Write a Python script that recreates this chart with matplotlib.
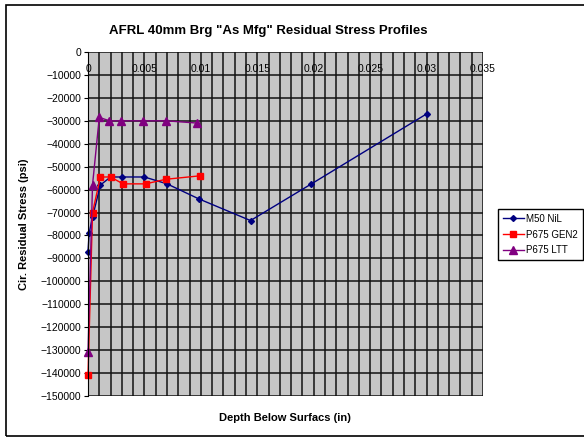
import matplotlib
matplotlib.use("Agg")
import matplotlib.pyplot as plt
from matplotlib.patches import Rectangle
import numpy as np

plt.rcParams['font.family'] = ['Liberation Sans', 'DejaVu Sans']

# depth (in) and circumferential residual stress (psi)
m50_x = [0.0, 0.0001, 0.0004, 0.0011, 0.002, 0.003, 0.005, 0.007, 0.0098, 0.0144, 0.0198, 0.030]
m50_y = [-87000, -79000, -72000, -58000, -54500, -54500, -54500, -57500, -64000, -73500, -57500, -27000]

gen2_x = [0.0, 0.0004, 0.0011, 0.002, 0.0031, 0.0051, 0.0069, 0.0099]
gen2_y = [-141000, -70000, -54500, -54500, -57500, -57500, -55500, -54000]

ltt_x = [0.0, 0.0004, 0.001, 0.0019, 0.0029, 0.0049, 0.0069, 0.0097]
ltt_y = [-131000, -58000, -28500, -30000, -30000, -30000, -30000, -31000]

x_ticks = [0, 0.005, 0.01, 0.015, 0.02, 0.025, 0.03, 0.035]
x_labels = ['0', '0.005', '0.01', '0.015', '0.02', '0.025', '0.03', '0.035']

fig = plt.figure(figsize=(5.84, 4.40), dpi=100)
ax = fig.add_axes([88/584, 1-396/440, 395/584, 344/440])
ax.set_facecolor('#c6c6c6')

ax.plot(m50_x, m50_y, color='#000080', lw=1, marker='D', ms=3, label='M50 NiL', clip_on=False)
ax.plot(gen2_x, gen2_y, color='#ff0000', lw=1, marker='s', ms=4, label='P675 GEN2', clip_on=False)
ax.plot(ltt_x, ltt_y, color='#800080', lw=1, marker='^', ms=6, label='P675 LTT', clip_on=False)

ax.set_xlim(0, 0.035)
ax.set_ylim(-150000, 0)
ax.set_xticks(x_ticks)
ax.set_xticklabels(x_labels)
ax.set_xticks(np.arange(0, 0.0351, 0.001), minor=True)
ax.set_yticks(np.arange(-150000, 1, 10000))
ax.grid(True, which='both', color='#111111', lw=1.1)
ax.set_axisbelow(True)

ax.tick_params(axis='x', which='both', top=False, bottom=False,
               labeltop=True, labelbottom=False, pad=-19, labelsize=7.5)
ax.tick_params(axis='y', labelsize=7.5, length=3, pad=2)
for s in ['top', 'right', 'bottom']:
    ax.spines[s].set_visible(False)
ax.spines['left'].set_color('black')

ax.set_ylabel('Cir. Residual Stress (psi)', fontsize=8, fontweight='bold', labelpad=8)
fig.text(285/584, 1-418/440, 'Depth Below Surfacs (in)', fontsize=8, fontweight='bold',
         ha='center', va='center')
fig.text(268/584, 1-31/440, 'AFRL 40mm Brg "As Mfg" Residual Stress Profiles',
         fontsize=9.5, fontweight='bold', ha='center', va='center')

leg = fig.legend(loc='upper left', bbox_to_anchor=(493/584, 1-204/440), fontsize=7,
                 frameon=True, fancybox=False, edgecolor='black', framealpha=1,
                 handlelength=2.2, borderpad=0.5, labelspacing=0.6, handletextpad=0.2)
leg.get_frame().set_linewidth(1)

fig.patches.append(Rectangle((6/584, 4/440), 600/584, 431/440, transform=fig.transFigure,
                             fill=False, edgecolor='black', lw=1.2))

fig.savefig('out.png', dpi=100)
